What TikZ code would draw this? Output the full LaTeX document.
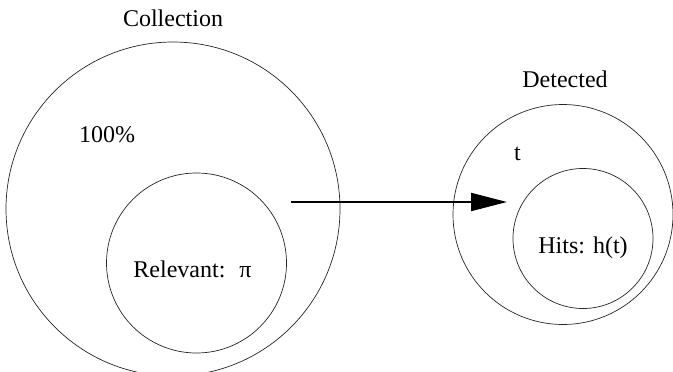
\documentclass[tikz,border=0pt]{standalone}
\usepackage{fontspec}
\setmainfont{Liberation Serif}
\newfontfamily\timesfont{Liberation Serif}
\usetikzlibrary{arrows.meta}
\begin{document}
\begin{tikzpicture}[x=1pt,y=-1pt,
  setcircle/.style={draw, circle, inner sep=0pt, line width=0.7pt, draw=black!85},
  lbl/.style={anchor=base, inner sep=0pt, font=\timesfont\fontsize{24}{28}\selectfont},
  flow/.style={line width=2pt, -{Triangle[length=36pt,width=18pt]}}]
\useasboundingbox (0,0) rectangle (673,372);
\begin{scope}
\clip (0,0) rectangle (673,372);
\node[setcircle, minimum size=334pt] (coll) at (173,209) {};
\node[setcircle, minimum size=180pt] (rel) at (196.5,263) {};
\node[setcircle, minimum size=220pt] (det) at (563,214.5) {};
\node[setcircle, minimum size=140pt] (hits) at (583,238.5) {};
\end{scope}
\node[lbl] (tcoll) at (173,27) {Collection};
\node[lbl] (tdet) at (565,87) {Detected};
\node[lbl] (tpct) at (107,142) {100\%};
\node[lbl] (trel) at (192.5,277) {Relevant:\hspace{14pt}π};
\node[lbl] (tt) at (517.5,160) {t};
\node[lbl] (thits) at (583,253) {Hits: h(t)};
\coordinate (a0) at (291,202);
\coordinate (a1) at (507,202);
\draw[flow] (a0) -- (a1);
\end{tikzpicture}
\end{document}
